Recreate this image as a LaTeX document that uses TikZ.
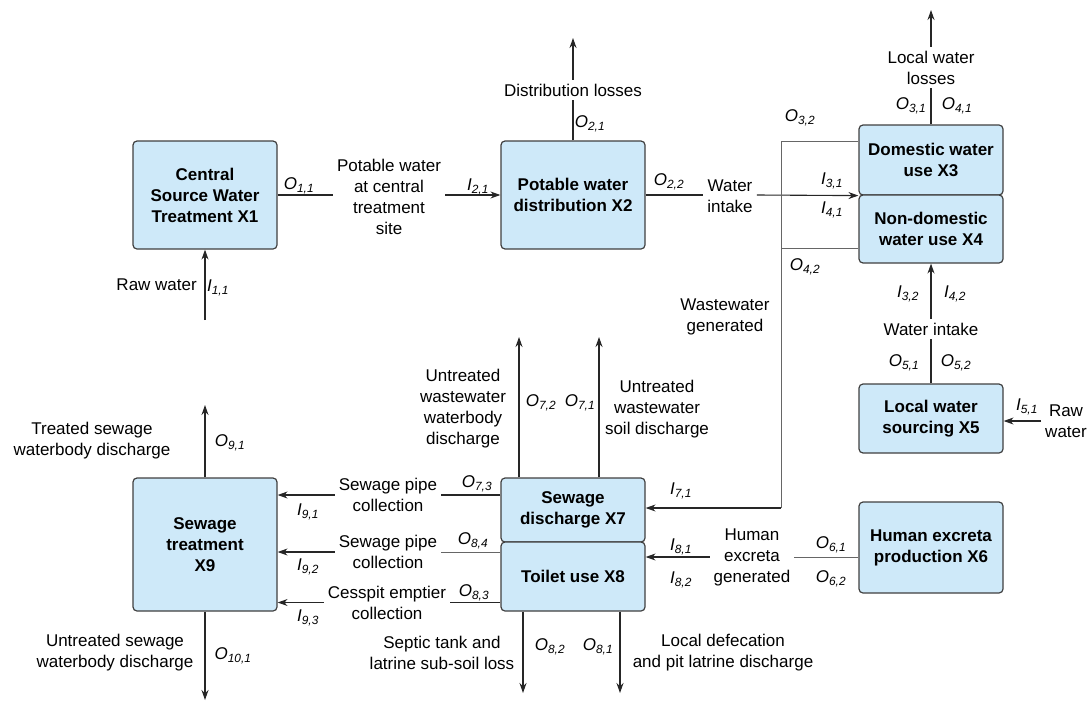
\documentclass[tikz,border=0pt]{standalone}
\usepackage{fontspec}
\setmainfont{Liberation Sans}
\usepackage{tikz}
\usetikzlibrary{positioning, arrows.meta}

\definecolor{boxblue}{RGB}{206,233,249}
\definecolor{boxedge}{RGB}{64,64,64}
\newcommand{\flow}[2]{\textit{#1}\textsubscript{\textit{#2}}}

\tikzset{
  unit/.style={draw=boxedge, fill=boxblue, line width=1.2pt, rounded corners=4pt,
    minimum width=144pt, inner sep=0pt, align=center,
    font=\fontsize{17}{21}\selectfont\bfseries},
  txt/.style={align=center, inner sep=4pt},
  lab/.style={inner sep=0pt},
  pipe/.style={draw=black!85, line width=1.1pt},
  arr/.style={pipe, -{Stealth[length=10pt,width=7pt]}},
  feed/.style={draw=black!60, line width=0.9pt},
}

\begin{document}
\begin{tikzpicture}[x=1pt, y=-1pt, font=\fontsize{17}{21}\selectfont]
    \useasboundingbox (0,0) rectangle (1091,707);

    % process units
    \node[unit, minimum height=108pt] (x1) at (205,195) {Central\\Source Water\\Treatment X1};
    \node[unit, minimum height=108pt] (x2) at (573,195) {Potable water\\distribution X2};
    \node[unit, minimum height=70pt] (x3) at (931,160) {Domestic water\\use X3};
    \node[unit, minimum height=68pt] (x4) at (931,229) {Non-domestic\\water use X4};
    \node[unit, minimum height=69pt] (x5) at (931,418.5) {Local water\\sourcing X5};
    \node[unit, minimum height=91pt] (x6) at (931,547.5) {Human excreta\\production X6};
    \node[unit, minimum height=64pt] (x7) at (573,510) {Sewage\\discharge X7};
    \node[unit, minimum height=69pt] (x8) at (573,576.5) {Toilet use X8};
    \node[unit, minimum height=133pt] (x9) at (205,544.5) {Sewage\\treatment\\X9};

    % flow texts
    \node[txt, anchor=east] (rawx1) at (201,285) {Raw water};
    \node[txt] (potable) at (389,196.5) {Potable water\\at central\\treatment\\site};
    \node[txt] (distloss) at (573,90) {Distribution losses};
    \node[txt] (intake) at (730,196.5) {Water\\intake};
    \node[txt] (localloss) at (931,67.5) {Local water\\losses};
    \node[txt] (wwgen) at (725,317) {Wastewater\\generated};
    \node[txt] (intake2) at (931,329) {Water intake};
    \node[txt] (rawx5) at (1066,421) {Raw\\water};
    \node[txt] (excreta) at (752,557) {Human\\excreta\\generated};
    \node[txt] (soilq) at (657,409) {Untreated\\wastewater\\soil discharge};
    \node[txt] (bodyq) at (463,409) {Untreated\\wastewater\\waterbody\\discharge};
    \node[txt] (pipe1) at (388,495) {Sewage pipe\\collection};
    \node[txt] (pipe2) at (388,552) {Sewage pipe\\collection};
    \node[txt] (cesspit) at (387,602.5) {Cesspit emptier\\collection};
    \node[txt] (septic) at (442,653) {Septic tank and\\latrine sub-soil loss};
    \node[txt] (pitlat) at (723,652.5) {Local defecation\\and pit latrine discharge};
    \node[txt] (treated) at (92,441) {Treated sewage\\waterbody discharge};
    \node[txt] (untreated) at (115,653) {Untreated sewage\\waterbody discharge};

    % free ends and junctions
    \coordinate (src1) at (205,320);
    \coordinate (up2) at (573,38);
    \coordinate (up3) at (931,10);
    \coordinate (up7a) at (519,337);
    \coordinate (up7b) at (599,337);
    \coordinate (dn8a) at (523,693);
    \coordinate (dn8b) at (620,693);
    \coordinate (up9) at (205,405);
    \coordinate (dn9) at (205,700);
    \coordinate (ww3) at (781,141);
    \coordinate (ww4) at (781,248);
    \coordinate (ww7) at (781,508);

    % connectors
    \draw[arr] (src1) -- (x1.south);
    \draw[pipe] (x1.east) -- (x1.east -| potable.west);
    \draw[arr] (x1.east -| potable.east) -- (x2.west);
    \draw[pipe] (x2.north) -- (distloss.south);
    \draw[arr] (distloss.north) -- (up2);
    \draw[pipe] (x2.east) -- (x2.east -| intake.west);
    \draw[arr] (x2.east -| intake.east) -- (x3.south west);
    \draw[pipe] (x3.north) -- (localloss.south);
    \draw[arr] (localloss.north) -- (up3);
    \draw[feed] (ww3 -| x3.west) -- (ww3) -- (ww7);
    \draw[feed] (ww4 -| x4.west) -- (ww4);
    \draw[arr] (ww7) -- (ww7 -| x7.east);
    \draw[pipe] (x5.north) -- (intake2.south);
    \draw[arr] (intake2.north) -- (x4.south);
    \draw[arr] (rawx5.west) -- (rawx5.west -| x5.east);
    \draw[feed] (x6.west |- excreta) -- (excreta.east);
    \draw[arr] (excreta.west) -- (excreta.west -| x8.east);
    \draw[arr] (up7a |- x7.north) -- (up7a);
    \draw[arr] (up7b |- x7.north) -- (up7b);
    \draw[arr] (dn8a |- x8.south) -- (dn8a);
    \draw[arr] (dn8b |- x8.south) -- (dn8b);
    \draw[pipe] (x7.west |- pipe1) -- (pipe1.east);
    \draw[arr] (pipe1.west) -- (pipe1.west -| x9.east);
    \draw[feed] (x8.west |- pipe2) -- (pipe2.east);
    \draw[arr] (pipe2.west) -- (pipe2.west -| x9.east);
    \draw[pipe] (x8.west |- cesspit) -- (cesspit.east);
    \draw[arr] (cesspit.west) -- (cesspit.west -| x9.east);
    \draw[arr] (x9.north) -- (up9);
    \draw[arr] (x9.south) -- (dn9);

    % flow labels
    \node[lab] (i11) at (218,288) {\flow{I}{1,1}};
    \node[lab] (o11) at (299,186) {\flow{O}{1,1}};
    \node[lab] (i21) at (478,187) {\flow{I}{2,1}};
    \node[lab] (o21) at (590,124) {\flow{O}{2,1}};
    \node[lab] (o22) at (669,182) {\flow{O}{2,2}};
    \node[lab] (o32) at (800,118) {\flow{O}{3,2}};
    \node[lab] (o31) at (911,106) {\flow{O}{3,1}};
    \node[lab] (o41) at (957,106) {\flow{O}{4,1}};
    \node[lab] (i31) at (832,181) {\flow{I}{3,1}};
    \node[lab] (i41) at (832,210) {\flow{I}{4,1}};
    \node[lab] (o42) at (805,267) {\flow{O}{4,2}};
    \node[lab] (i32) at (908,294) {\flow{I}{3,2}};
    \node[lab] (i42) at (955,294) {\flow{I}{4,2}};
    \node[lab] (o51) at (904,363) {\flow{O}{5,1}};
    \node[lab] (o52) at (956,363) {\flow{O}{5,2}};
    \node[lab] (i51) at (1027,407) {\flow{I}{5,1}};
    \node[lab] (o61) at (831,545) {\flow{O}{6,1}};
    \node[lab] (o62) at (831,579) {\flow{O}{6,2}};
    \node[lab] (i71) at (681,491) {\flow{I}{7,1}};
    \node[lab] (i81) at (681,547) {\flow{I}{8,1}};
    \node[lab] (i82) at (681,580) {\flow{I}{8,2}};
    \node[lab] (o72) at (541,403) {\flow{O}{7,2}};
    \node[lab] (o71) at (580,403) {\flow{O}{7,1}};
    \node[lab] (o73) at (477,484) {\flow{O}{7,3}};
    \node[lab] (o84) at (473,541) {\flow{O}{8,4}};
    \node[lab] (o83) at (474,593) {\flow{O}{8,3}};
    \node[lab] (o82) at (550,647) {\flow{O}{8,2}};
    \node[lab] (o81) at (598,647) {\flow{O}{8,1}};
    \node[lab] (i91) at (308,512) {\flow{I}{9,1}};
    \node[lab] (i92) at (308,567) {\flow{I}{9,2}};
    \node[lab] (i93) at (308,618) {\flow{I}{9,3}};
    \node[lab] (o91) at (230,443) {\flow{O}{9,1}};
    \node[lab] (o101) at (233,656) {\flow{O}{10,1}};
\end{tikzpicture}
\end{document}
